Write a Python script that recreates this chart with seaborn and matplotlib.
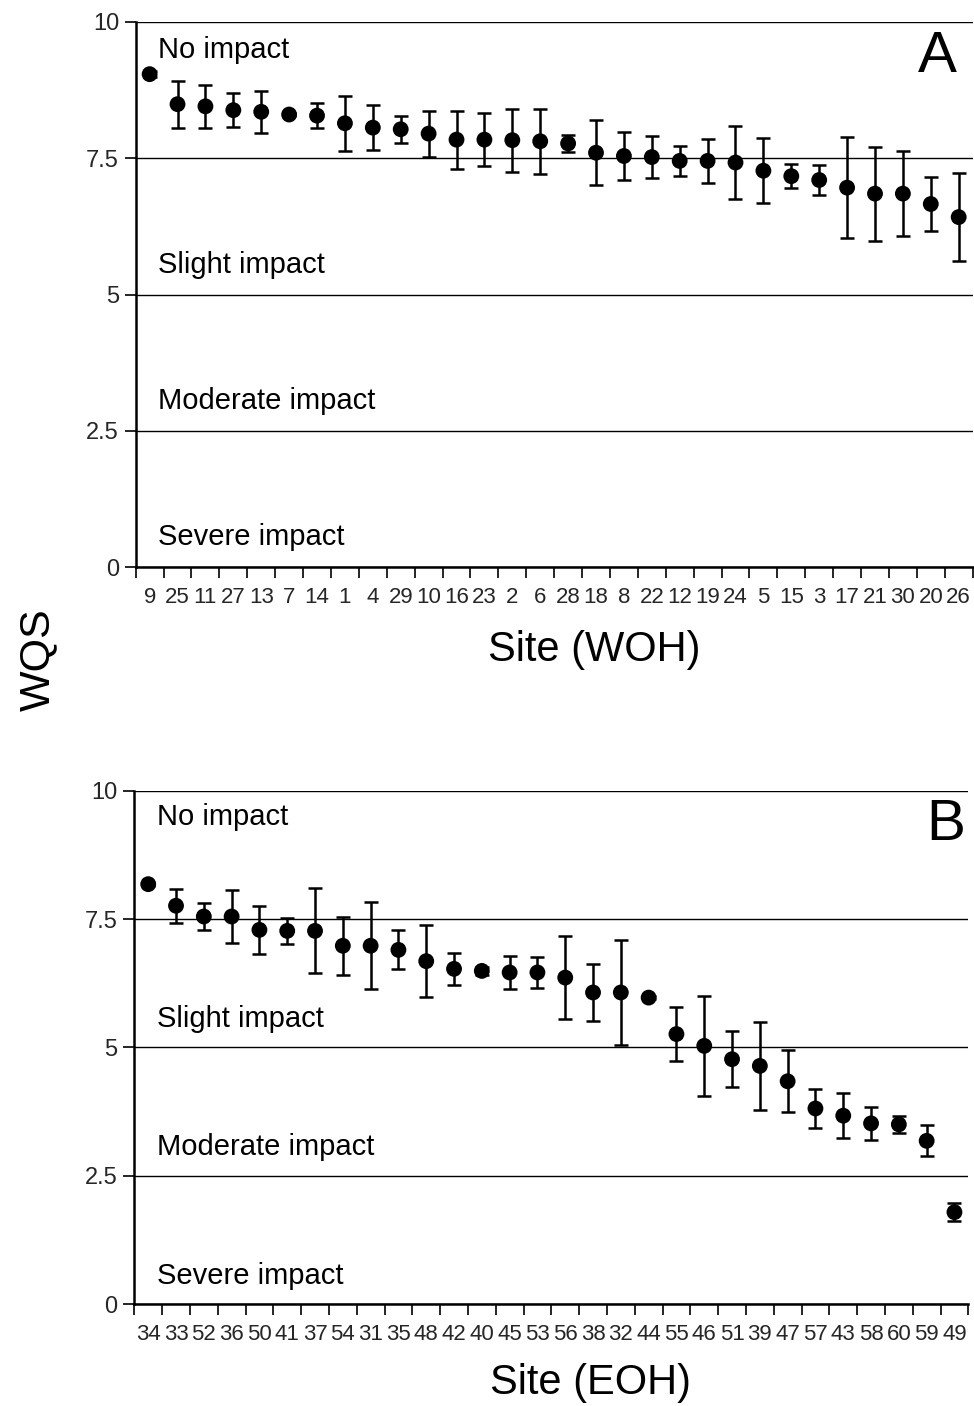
import numpy as np
import pandas as pd
import matplotlib
matplotlib.use("Agg")
import matplotlib.pyplot as plt
import seaborn as sns

# ---------------- data ----------------
sites_A = ['9', '25', '11', '27', '13', '7', '14', '1', '4', '29', '10', '16', '23', '2', '6',
           '28', '18', '8', '22', '12', '19', '24', '5', '15', '3', '17', '21', '30', '20', '26']
wqs_A = [9.04, 8.49, 8.45, 8.38, 8.35, 8.30, 8.28, 8.14, 8.06, 8.03, 7.95, 7.84, 7.84, 7.83, 7.81,
         7.77, 7.60, 7.54, 7.52, 7.45, 7.45, 7.42, 7.27, 7.17, 7.10, 6.96, 6.85, 6.85, 6.66, 6.42]
err_A = [0.06, 0.43, 0.40, 0.31, 0.38, 0.03, 0.23, 0.50, 0.41, 0.25, 0.42, 0.53, 0.48, 0.58, 0.60,
         0.15, 0.60, 0.44, 0.38, 0.28, 0.40, 0.67, 0.60, 0.22, 0.28, 0.92, 0.86, 0.78, 0.50, 0.80]

sites_B = ['34', '33', '52', '36', '50', '41', '37', '54', '31', '35', '48', '42', '40', '45', '53',
           '56', '38', '32', '44', '55', '46', '51', '39', '47', '57', '43', '58', '60', '59', '49']
wqs_B = [8.18, 7.76, 7.55, 7.55, 7.29, 7.27, 7.27, 6.98, 6.98, 6.90, 6.68, 6.53, 6.49, 6.46, 6.46,
         6.36, 6.07, 6.07, 5.97, 5.26, 5.03, 4.77, 4.64, 4.34, 3.81, 3.67, 3.52, 3.50, 3.18, 1.79]
err_B = [0.04, 0.33, 0.27, 0.52, 0.47, 0.26, 0.83, 0.56, 0.85, 0.38, 0.70, 0.31, 0.07, 0.33, 0.31,
         0.81, 0.55, 1.02, 0.03, 0.52, 0.98, 0.54, 0.85, 0.60, 0.38, 0.44, 0.32, 0.16, 0.30, 0.17]

y_ticks = [0, 2.5, 5, 7.5, 10]
y_ticklabels = ['0', '2.5', '5', '7.5', '10']
zone_labels = ['No impact', 'Slight impact', 'Moderate impact', 'Severe impact']
zone_y = [9.33, 5.40, 2.90, 0.40]

# ---------------- style ----------------
sns.set_theme(style="white")
plt.rcParams['font.family'] = ['Liberation Sans', 'DejaVu Sans']

fig = plt.figure(figsize=(9.74, 14.06), dpi=100)
axA = fig.add_axes([0.1393, 0.5965, 0.8593, 0.3880])
axB = fig.add_axes([0.1379, 0.0725, 0.8563, 0.3651])


def draw_panel(ax, sites, wqs, err, letter, letter_pos, xlabel, xlabel_pos):
    df = pd.DataFrame({'site': sites, 'wqs': wqs, 'err': err})
    df['pos'] = np.arange(len(df))
    ax.errorbar(df['pos'], df['wqs'], yerr=df['err'], fmt='none', ecolor='black',
                elinewidth=1.8, capsize=5, capthick=1.8, zorder=3)
    sns.scatterplot(data=df, x='pos', y='wqs', ax=ax, color='black', s=130,
                    edgecolor='none', zorder=4, legend=False)
    n = len(df)
    ax.set_xlim(-0.5, n - 0.5)
    ax.set_ylim(0, 10)
    # category boundary ticks (unlabelled) and centered labels
    ax.set_xticks(np.arange(-0.5, n, 1.0))
    ax.set_xticklabels([])
    ax.set_xticks(np.arange(n), minor=True)
    ax.set_xticklabels(df['site'], minor=True, fontsize=16)
    ax.tick_params(axis='x', which='major', direction='out', length=8, width=1.2,
                   color='black', bottom=True)
    ax.tick_params(axis='x', which='minor', length=0, pad=14, bottom=True)
    ax.set_yticks(y_ticks)
    ax.set_yticklabels(y_ticklabels, fontsize=17)
    ax.tick_params(axis='y', direction='out', length=8, width=1.2, color='black',
                   left=True, pad=4)
    ax.yaxis.grid(True, color='black', linewidth=1.0)
    ax.xaxis.grid(False)
    ax.set_axisbelow(True)
    for side in ['top', 'right']:
        ax.spines[side].set_visible(False)
    for side in ['left', 'bottom']:
        ax.spines[side].set_color('black')
        ax.spines[side].set_linewidth(1.8)
    for lab, yy in zip(zone_labels, zone_y):
        ax.text(0.3, yy, lab, fontsize=21, ha='left', va='baseline', color='black')
    ax.text(letter_pos[0], letter_pos[1], letter, transform=ax.transAxes,
            fontsize=42, ha='right', va='baseline', color='black')
    ax.set_xlabel(xlabel, fontsize=30, color='black', va='center')
    ax.xaxis.set_label_coords(*xlabel_pos)
    ax.set_ylabel('')


draw_panel(axA, sites_A, wqs_A, err_A, 'A', (0.981, 0.908), 'Site (WOH)', (0.5476, -0.152))
draw_panel(axB, sites_B, wqs_B, err_B, 'B', (0.996, 0.904), 'Site (EOH)', (0.5465, -0.153))

fig.text(0.039, 0.5306, 'WQS', rotation=90, fontsize=31,
         ha='center', va='center', color='black')

fig.savefig('out.png', dpi=100)
